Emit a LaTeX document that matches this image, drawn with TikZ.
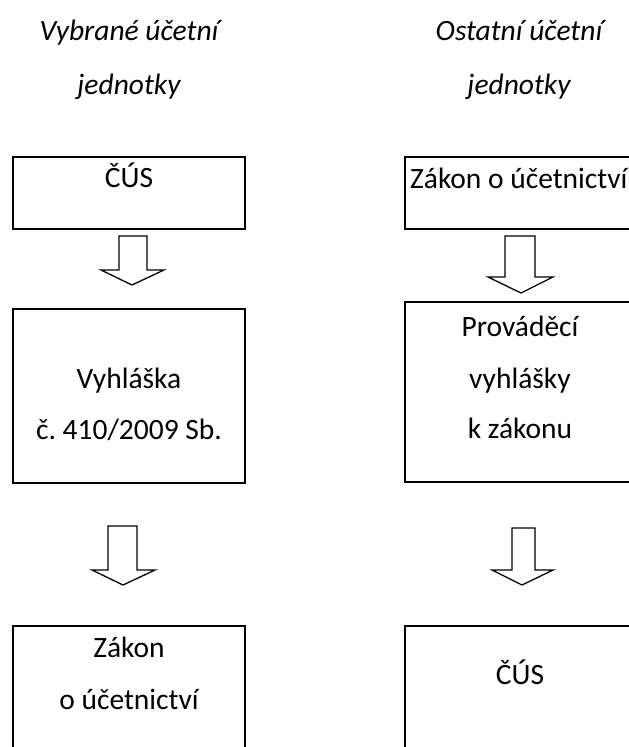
\documentclass[tikz,border=0pt]{standalone}
\usepackage{fontspec}
\setmainfont{Carlito}
\frenchspacing
\begin{document}
\begin{tikzpicture}[x=1pt,y=-1pt,
  box/.style={draw, line width=2.2pt, minimum width=232pt, inner sep=0pt},
  lbl/.style={font=\fontsize{29.5}{36}\selectfont, anchor=base, inner sep=0pt},
  ttl/.style={font=\fontsize{29.5}{36}\selectfont\itshape, anchor=base, inner sep=0pt},
  blockarrow/.style={draw, line width=1.3pt, fill=white, line join=miter}]
\useasboundingbox (0,0) rectangle (629,747);
\clip (0,0) rectangle (629,747);

% titles
\node[ttl] (t1a) at (129,40) {Vybrané účetní};
\node[ttl] (t1b) at (129,94) {jednotky};
\node[ttl] (t2a) at (519,40) {Ostatní účetní};
\node[ttl] (t2b) at (519,94) {jednotky};

% boxes
\node[box, minimum height=72pt]  (l1) at (129,193) {};
\node[box, minimum height=72pt]  (r1) at (521,193) {};
\node[box, minimum height=174pt] (l2) at (129,396) {};
\node[box, minimum height=180pt] (r2) at (521,392) {};
\node[box, minimum height=174pt] (l3) at (129,713) {};
\node[box, minimum height=174pt] (r3) at (521,713) {};

% texts
\node[lbl] (l1t) at (129,187) {ČÚS};
\node[lbl, anchor=base west] (r1t) at (410,188) {Zákon o účetnictví};
\node[lbl] (l2a) at (129,388) {Vyhláška};
\node[lbl] (l2b) at (129,439) {č. 410/2009 Sb.};
\node[lbl] (r2a) at (520,336) {Prováděcí};
\node[lbl] (r2b) at (520,388) {vyhlášky};
\node[lbl] (r2c) at (520,438) {k zákonu};
\node[lbl] (l3a) at (129,657) {Zákon};
\node[lbl] (l3b) at (129,709) {o účetnictví};
\node[lbl] (r3a) at (520,684) {ČÚS};

% block arrows
\draw[blockarrow] (119,236) -- (147,236) -- (147,270) -- (164,270) -- (132,285) -- (101,270) -- (119,270) -- cycle;
\draw[blockarrow] (505,236) -- (535,236) -- (535,277) -- (553,277) -- (521,293) -- (488,277) -- (505,277) -- cycle;
\draw[blockarrow] (108,526) -- (137,526) -- (137,570) -- (155,570) -- (123,585) -- (92,570) -- (108,570) -- cycle;
\draw[blockarrow] (512,528) -- (535,528) -- (535,570) -- (553,570) -- (522,585) -- (492,570) -- (512,570) -- cycle;
\end{tikzpicture}
\end{document}
